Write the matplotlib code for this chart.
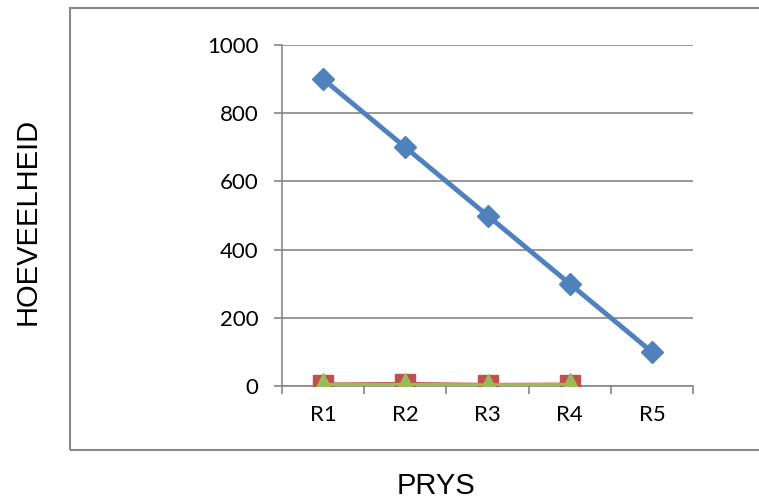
from matplotlib import pyplot as plt
from matplotlib.patches import Rectangle
import numpy as np

categories = ['R1', 'R2', 'R3', 'R4', 'R5']
blue_vals = [900, 700, 500, 300, 100]
red_vals = [3, 5, 2, 3]
green_vals = [2, 2, 1, 2]
y_ticks = [0, 200, 400, 600, 800, 1000]

W, H = 759, 499
fig = plt.figure(figsize=(W / 100, H / 100), dpi=100)

# outer chart border
fig.patches.append(Rectangle((70 / W, (H - 450) / H), 1.0, (450 - 8) / H,
                             transform=fig.transFigure, fill=False,
                             edgecolor='#878787', linewidth=1.5))

ax = fig.add_axes([282 / W, (H - 386) / H, (693 - 282) / W, (386 - 45) / H])
x = np.arange(len(categories))

ax.plot(x, blue_vals, color='#4F81BD', linewidth=3.5, marker='D',
        markersize=11, zorder=3)
ax.plot(x[:len(red_vals)], red_vals, color='#C0504D', linewidth=3.5,
        marker='s', markersize=15, zorder=3)
ax.plot(x[:len(green_vals)], green_vals, color='#9BBB59', linewidth=3.5,
        marker='^', markersize=18, zorder=4)

ax.set_xlim(-0.5, len(categories) - 0.5)
ax.set_ylim(0, 1000)
ax.set_yticks(y_ticks)
ax.set_yticklabels([str(v) for v in y_ticks], fontname='Lato', fontsize=16)
ax.set_xticks(x)
ax.set_xticklabels(categories, fontname='Lato', fontsize=16)
ax.set_xticks(np.arange(-0.5, len(categories)), minor=True)
ax.tick_params(axis='x', which='major', length=0, pad=14)
ax.tick_params(axis='x', which='minor', length=6, color='#868686', width=1.2)
ax.tick_params(axis='y', length=6, color='#868686', width=1.2, pad=11)
ax.grid(axis='y', color='#868686', linewidth=1.2)
ax.set_axisbelow(True)
for s in ['top', 'right']:
    ax.spines[s].set_visible(False)
for s in ['left', 'bottom']:
    ax.spines[s].set_color('#868686')
    ax.spines[s].set_linewidth(1.2)

fig.text(28 / W, (H - 221) / H, 'HOEVEELHEID', rotation=90, ha='center',
         va='center', fontname='Liberation Sans', fontsize=21)
fig.text(436 / W, (H - 486) / H, 'PRYS', ha='center', va='center',
         fontname='Liberation Sans', fontsize=21)

fig.savefig('out.png', dpi=100)
